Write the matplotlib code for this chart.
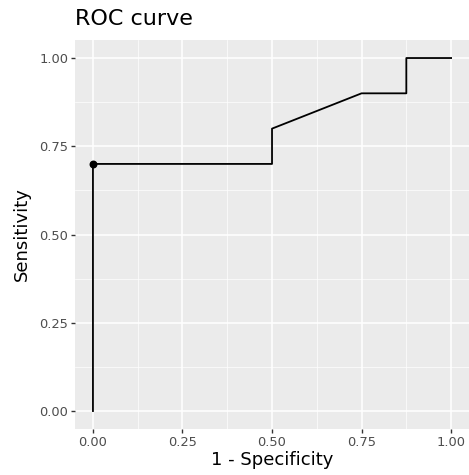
import matplotlib
matplotlib.use("Agg")
import matplotlib.pyplot as plt

# ROC curve coordinates (1 - specificity, sensitivity)
fpr = [0.0, 0.0, 0.5, 0.5, 0.75, 0.875, 0.875, 1.0]
tpr = [0.0, 0.7, 0.7, 0.8, 0.9, 0.9, 1.0, 1.0]
best_x = [0.0]
best_y = [0.7]
ticks = [0.0, 0.25, 0.5, 0.75, 1.0]
tick_labels = ["0.00", "0.25", "0.50", "0.75", "1.00"]

fig = plt.figure(figsize=(4.69, 4.75), dpi=100)
ax = fig.add_axes([0.160, 0.0975, 0.840, 0.8175])
ax.set_facecolor("#EBEBEB")

ax.plot(fpr, tpr, color="black", lw=1.3, zorder=3)
ax.scatter(best_x, best_y, color="black", s=22, zorder=4)

ax.set_xlim(-0.05, 1.05)
ax.set_ylim(-0.05, 1.05)
ax.set_xticks(ticks)
ax.set_xticklabels(tick_labels)
ax.set_yticks(ticks)
ax.set_yticklabels(tick_labels)
ax.set_xticks([0.125, 0.375, 0.625, 0.875], minor=True)
ax.set_yticks([0.125, 0.375, 0.625, 0.875], minor=True)
ax.grid(which="major", color="white", lw=1.1)
ax.grid(which="minor", color="white", lw=0.5)
ax.set_axisbelow(True)
ax.tick_params(which="major", length=3, width=1, color="#333333",
               labelcolor="#4D4D4D", labelsize=9.4, pad=2)
ax.tick_params(which="minor", length=0)
for s in ax.spines.values():
    s.set_visible(False)

ax.set_xlabel("1 - Specificity", fontsize=13, labelpad=2)
ax.set_ylabel("Sensitivity", fontsize=13, labelpad=6)
fig.text(0.160, 0.938, "ROC curve", fontsize=16, ha="left", va="bottom")

fig.savefig("out.png", dpi=100)
